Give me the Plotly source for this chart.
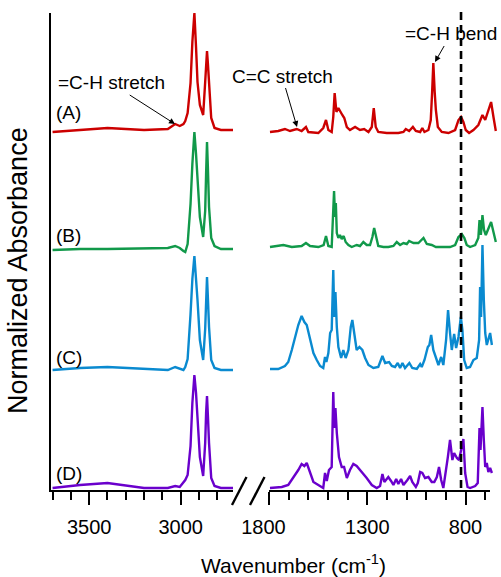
import plotly.graph_objects as go

W, H = 501, 577

# ---------------- data ----------------
labels = ["(A)", "(B)", "(C)", "(D)"]
colors = ["#cc0000", "#11994a", "#0a8ad0", "#6a00cc"]
offsets = [3.59, 2.42, 1.22, 0.03]

# C-H stretch region (shared wavenumber grid)
left_wn = [3700, 3550, 3400, 3200, 3070, 3030, 3005, 2985, 2975, 2962, 2946, 2936, 2925,
           2916, 2908, 2895, 2877, 2866, 2861, 2856, 2851, 2845, 2833, 2815, 2780, 2712]
A_left = [0.00, 0.02, 0.04, 0.02, 0.03, 0.08, 0.06, 0.08, 0.11, 0.19, 0.49, 0.90, 1.19,
          0.85, 0.50, 0.27, 0.17, 0.50, 0.72, 0.81, 0.68, 0.45, 0.14, 0.04, 0.02, 0.02]
B_left = [-0.01, 0.00, 0.00, 0.01, 0.01, 0.03, 0.01, -0.02, -0.03, 0.05, 0.45, 0.85, 1.17,
          0.95, 0.66, 0.32, 0.12, 0.38, 0.75, 1.07, 0.80, 0.42, 0.11, 0.03, 0.00, 0.00]
C_left = [-0.01, 0.01, 0.02, 0.00, -0.01, 0.02, 0.00, -0.01, 0.02, 0.10, 0.55, 0.90, 1.13,
          0.94, 0.69, 0.29, 0.09, 0.40, 0.70, 0.92, 0.70, 0.42, 0.09, 0.01, -0.01, -0.01]
D_left = [0.00, 0.03, 0.05, 0.00, 0.00, 0.02, 0.01, 0.05, 0.08, 0.13, 0.42, 0.85, 1.13,
          0.95, 0.68, 0.31, 0.12, 0.45, 0.75, 0.92, 0.72, 0.45, 0.10, 0.02, 0.00, 0.00]

# fingerprint region
A_right_wn = [1795, 1753, 1719, 1693, 1659, 1634, 1612, 1600, 1549, 1524, 1510, 1498, 1481, 1473,
              1466, 1457, 1447, 1437, 1427, 1417, 1404, 1388, 1362, 1337, 1316, 1294, 1277, 1267,
              1257, 1244, 1218, 1201, 1175, 1142, 1116, 1104, 1087, 1068, 1053, 1031, 1020, 1009,
              989, 977, 970, 964, 957, 951, 941, 921, 887, 853, 836, 823, 811, 799, 782, 760, 735,
              714, 700, 684, 670, 658, 646]
A_right = [0.00, 0.01, 0.03, 0.01, 0.03, 0.01, 0.05, 0.00, -0.01, 0.04, 0.12, 0.02, 0.00, 0.15,
           0.39, 0.20, 0.24, 0.20, 0.17, 0.14, 0.05, 0.02, 0.05, 0.02, 0.03, 0.00, 0.05, 0.24,
           0.05, 0.00, -0.01, -0.01, -0.01, -0.01, 0.00, 0.03, 0.01, 0.05, 0.01, 0.00, 0.04, 0.00,
           0.02, 0.12, 0.40, 0.69, 0.40, 0.22, 0.05, 0.00, -0.01, 0.02, 0.12, 0.15, 0.10, 0.02,
           -0.01, 0.02, 0.07, 0.17, 0.12, 0.22, 0.30, 0.15, 0.01]

B_right_wn = [1795, 1727, 1684, 1634, 1612, 1591, 1549, 1522, 1510, 1498, 1481, 1474, 1469, 1464,
              1460, 1455, 1447, 1439, 1430, 1420, 1410, 1396, 1379, 1354, 1337, 1320, 1303, 1286,
              1274, 1265, 1255, 1244, 1218, 1193, 1167, 1150, 1133, 1116, 1099, 1087, 1065, 1040,
              1014, 997, 972, 951, 921, 879, 853, 836, 819, 806, 794, 777, 751, 735, 729, 722, 714,
              706, 697, 684, 670, 658, 646]
B_right = [0.02, 0.04, 0.02, 0.03, 0.06, 0.03, 0.02, 0.04, 0.13, 0.03, 0.02, 0.29, 0.58, 0.32,
           0.46, 0.16, 0.11, 0.14, 0.10, 0.13, 0.07, 0.04, 0.02, 0.04, 0.03, 0.07, 0.04, 0.04,
           0.12, 0.21, 0.11, 0.03, 0.02, 0.02, 0.03, 0.07, 0.04, 0.06, 0.05, 0.08, 0.06, 0.06,
           0.11, 0.05, 0.04, 0.02, 0.02, 0.02, 0.04, 0.12, 0.15, 0.11, 0.04, 0.02, 0.04, 0.11,
           0.29, 0.14, 0.34, 0.19, 0.14, 0.21, 0.27, 0.17, 0.07]

C_right_wn = [1795, 1753, 1719, 1702, 1684, 1668, 1651, 1634, 1620, 1608, 1591, 1574, 1557, 1540,
              1524, 1515, 1508, 1498, 1489, 1481, 1473, 1468, 1462, 1455, 1447, 1433, 1422, 1410,
              1396, 1384, 1376, 1366, 1354, 1340, 1325, 1311, 1294, 1269, 1244, 1223, 1209, 1189,
              1175, 1159, 1145, 1133, 1121, 1108, 1086, 1071, 1048, 1031, 1023, 1009, 992, 984,
              975, 964, 951, 938, 924, 913, 899, 889, 879, 870, 858, 848, 836, 824, 816, 807, 794,
              777, 760, 743, 731, 726, 721, 714, 707, 700, 692, 684, 675, 666]
C_right = [0.00, 0.00, 0.03, 0.07, 0.19, 0.32, 0.44, 0.53, 0.47, 0.44, 0.29, 0.16, 0.09, 0.03,
           0.01, 0.12, 0.07, 0.16, 0.36, 0.39, 0.99, 0.52, 0.77, 0.42, 0.22, 0.11, 0.19, 0.11,
           0.19, 0.42, 0.49, 0.36, 0.19, 0.22, 0.19, 0.11, 0.04, 0.01, 0.02, 0.13, 0.06, 0.07,
           0.03, 0.02, 0.06, 0.01, 0.06, 0.01, 0.06, 0.01, 0.00, 0.05, 0.02, 0.09, 0.22, 0.24,
           0.34, 0.19, 0.11, 0.04, 0.12, 0.04, 0.29, 0.59, 0.36, 0.19, 0.35, 0.21, 0.32, 0.52,
           0.39, 0.09, 0.01, 0.02, 0.09, 0.11, 0.29, 0.82, 0.52, 1.24, 0.69, 0.36, 0.24, 0.29,
           0.36, 0.24]

D_right_wn = [1795, 1735, 1702, 1676, 1651, 1634, 1620, 1608, 1591, 1574, 1549, 1524, 1515, 1506,
              1495, 1481, 1473, 1468, 1462, 1455, 1444, 1430, 1418, 1404, 1388, 1371, 1354, 1337,
              1320, 1303, 1277, 1252, 1235, 1223, 1213, 1193, 1179, 1167, 1153, 1142, 1128, 1116,
              1096, 1082, 1071, 1053, 1043, 1031, 1020, 1006, 989, 972, 959, 946, 935, 924, 913,
              901, 890, 879, 867, 858, 844, 833, 823, 811, 802, 790, 777, 751, 738, 729, 724, 714,
              707, 700, 692, 684, 675, 666]
D_right = [0.00, 0.01, 0.03, 0.10, 0.18, 0.24, 0.22, 0.25, 0.15, 0.06, 0.03, 0.00, 0.15, 0.07,
           0.18, 0.21, 0.96, 0.60, 0.80, 0.55, 0.31, 0.21, 0.21, 0.10, 0.18, 0.24, 0.22, 0.18,
           0.15, 0.10, 0.03, 0.00, 0.02, 0.14, 0.06, 0.11, 0.07, 0.03, 0.09, 0.04, 0.09, 0.03,
           0.08, 0.12, 0.06, 0.01, 0.05, 0.16, 0.15, 0.10, 0.11, 0.06, 0.06, 0.11, 0.21, 0.08,
           0.00, 0.15, 0.31, 0.48, 0.28, 0.35, 0.30, 0.28, 0.38, 0.49, 0.15, 0.01, 0.00, 0.02,
           0.05, 0.60, 0.38, 0.81, 0.48, 0.21, 0.25, 0.16, 0.20, 0.15]

left_series = [A_left, B_left, C_left, D_left]
right_wn = [A_right_wn, B_right_wn, C_right_wn, D_right_wn]
right_series = [A_right, B_right, C_right, D_right]

left_ticks = [3500, 3000]
left_ticktext = ["3500", "3000"]
right_ticks = [1800, 1300, 800]
right_ticktext = ["1800\u00a0\u00a0", "1300", "800"]

left_range = [3714, 2714]
right_range = [1800, 640]
dashed_wn = 823

# ---------------- layout helpers ----------------
def px(xp):
    return xp / W

def py(yp):
    return 1 - yp / H

AXIS_Y = 491
FONT = "Arial, Liberation Sans, sans-serif"

fig = go.Figure()
for i in range(4):
    fig.add_trace(go.Scatter(x=left_wn, y=[v + offsets[i] for v in left_series[i]],
                             xaxis="x", yaxis="y", mode="lines",
                             line=dict(color=colors[i], width=2.4), showlegend=False))
    fig.add_trace(go.Scatter(x=right_wn[i], y=[v + offsets[i] for v in right_series[i]],
                             xaxis="x2", yaxis="y", mode="lines",
                             line=dict(color=colors[i], width=2.4), showlegend=False))

tick_common = dict(ticks="outside", ticklen=13, tickwidth=2, tickcolor="black",
                   showgrid=False, zeroline=False, showline=False, automargin=False,
                   ticklabelstandoff=5,
                   tickfont=dict(family=FONT, size=20, color="black"),
                   minor=dict(tick0=0, dtick=100, ticks="outside", ticklen=8, tickwidth=2,
                              tickcolor="black", showgrid=False))

fig.update_layout(
    template="none",
    width=W, height=H, margin=dict(l=0, r=0, t=0, b=0, pad=0, autoexpand=False),
    paper_bgcolor="white", plot_bgcolor="white", showlegend=False,
    xaxis=dict(domain=[px(50), px(233)], range=left_range, anchor="y",
               tickmode="array", tickvals=left_ticks, ticktext=left_ticktext, **tick_common),
    xaxis2=dict(domain=[px(269), px(497)], range=right_range, anchor="y",
                tickmode="array", tickvals=right_ticks, ticktext=right_ticktext, **tick_common),
    yaxis=dict(domain=[py(AXIS_Y), py(8)], range=[0, (AXIS_Y - 8) / 100],
               showticklabels=False, ticks="", showgrid=False, zeroline=False,
               showline=False, automargin=False),
)

line_k = dict(color="black", width=2)
shapes = [
    # y axis
    dict(type="line", xref="paper", yref="paper", x0=px(50), x1=px(50),
         y0=py(AXIS_Y + 1), y1=py(13), line=line_k),
    # bottom axis lines
    dict(type="line", xref="paper", yref="paper", x0=px(49), x1=px(233),
         y0=py(AXIS_Y), y1=py(AXIS_Y), line=line_k),
    dict(type="line", xref="paper", yref="paper", x0=px(269), x1=px(490),
         y0=py(AXIS_Y), y1=py(AXIS_Y), line=line_k),
    # axis break marks
    dict(type="line", xref="paper", yref="paper", x0=px(232), x1=px(246.5),
         y0=py(505), y1=py(477), line=dict(color="black", width=2.4)),
    dict(type="line", xref="paper", yref="paper", x0=px(250), x1=px(264.5),
         y0=py(505), y1=py(477), line=dict(color="black", width=2.4)),
    # dashed reference line
    dict(type="line", xref="x2", yref="paper", x0=dashed_wn, x1=dashed_wn,
         y0=py(488), y1=py(8), line=dict(color="black", width=2.6, dash="8px,5px")),
]
fig.update_layout(shapes=shapes)

ann = []
label_y = [112, 235, 357, 473]
for lab, yy in zip(labels, label_y):
    ann.append(dict(text=lab, xref="paper", yref="paper", x=px(54), y=py(yy),
                    xanchor="left", yanchor="middle", showarrow=False,
                    font=dict(family=FONT, size=19, color="black")))

# annotation text centre (px) and arrow head (px)
callouts = [("=C-H stretch", (111, 83), (175, 124)),
            ("C=C stretch", (282, 76), (297, 127)),
            ("=C-H bend", (451, 34), (435, 62))]
for t, (cx, cy), (hx, hy) in callouts:
    ann.append(dict(text=t, xref="paper", yref="paper", x=px(hx), y=py(hy),
                    ax=cx - hx, ay=cy - hy, showarrow=True, arrowhead=2,
                    arrowsize=1.2, arrowwidth=1, arrowcolor="black", standoff=0,
                    font=dict(family=FONT, size=19, color="black")))

ann.append(dict(text="Wavenumber (cm<sup>-1</sup>)", xref="paper", yref="paper",
                x=px(293), y=py(564), xanchor="center", yanchor="middle", showarrow=False,
                font=dict(family=FONT, size=21, color="black")))
ann.append(dict(text="Normalized Absorbance", xref="paper", yref="paper",
                x=px(18), y=py(271), xanchor="center", yanchor="middle", showarrow=False,
                textangle=-90, font=dict(family=FONT, size=27, color="black")))
fig.update_layout(annotations=ann)

fig.write_html("out.html")
